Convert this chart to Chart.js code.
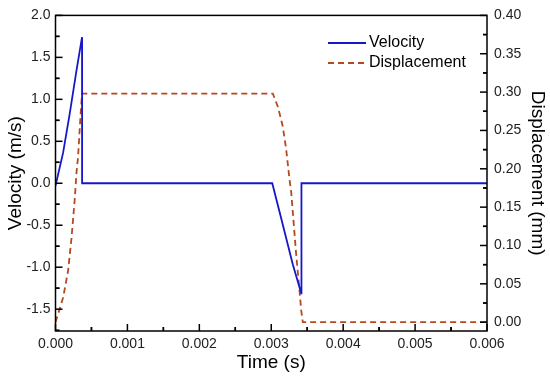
<!DOCTYPE html>
<html>
<head>
<meta charset="utf-8">
<script src="https://cdn.jsdelivr.net/npm/chart.js@4/dist/chart.umd.min.js"></script>
<style>
  html, body { margin: 0; padding: 0; background: #fff; }
  #wrap { width: 550px; height: 377px; }
</style>
</head>
<body>
<div id="wrap"><canvas id="chart"></canvas></div>
<script>
// Velocity (m/s) vs time (s)
const velTime = [0, 0.000106, 0.000199, 0.000292, 0.000369, 0.00037, 0.003014, 0.003115, 0.003208, 0.0033, 0.003417, 0.00342, 0.006];
const velocity = [-0.03, 0.365, 0.835, 1.345, 1.74, 0, 0, -0.34, -0.655, -0.968, -1.31, 0, 0];

// Displacement (mm) vs time (s)
const dispTime = [0, 0.000106, 0.000175, 0.000222, 0.000268, 0.000292, 0.000314, 0.000347, 0.000369, 0.003022, 0.003092, 0.003161, 0.003208, 0.003254, 0.003278, 0.003347, 0.003393, 0.003417, 0.003439, 0.006];
const displacement = [0, 0.032, 0.067, 0.109, 0.161, 0.195, 0.216, 0.268, 0.298, 0.298, 0.281, 0.255, 0.225, 0.186, 0.169, 0.088, 0.041, 0.015, 0, 0];

// tick labels
const timeTicks = [0, 0.001, 0.002, 0.003, 0.004, 0.005, 0.006];
const velTicks = [-1.5, -1.0, -0.5, 0.0, 0.5, 1.0, 1.5, 2.0];
const dispTicks = [0, 0.05, 0.10, 0.15, 0.20, 0.25, 0.30, 0.35, 0.40];

const FONT = "'Liberation Sans', Arial, sans-serif";
const INK = '#222';

function pairs(xs, ys) {
    return xs.map((x, i) => ({ x: x, y: ys[i] }));
}

// frame, inward ticks (major + minor) and legend inside the plot
const framePlugin = {
    id: 'frame',
    afterDraw(chart) {
        const ctx = chart.ctx;
        const a = chart.chartArea;
        ctx.save();
        ctx.strokeStyle = '#000';
        ctx.lineWidth = 1.5;

        const marks = (scale, vertical, sideLeft) => {
            const vals = scale.ticks.map(t => t.value);
            const step = vals[1] - vals[0];
            const all = [];
            vals.forEach(v => { all.push([v, 7]); all.push([v + step / 2, 4]); all.push([v - step / 2, 4]); });
            all.forEach(([v, len]) => {
                if (v < scale.min - 1e-12 || v > scale.max + 1e-12) return;
                const p = scale.getPixelForValue(v);
                ctx.beginPath();
                if (vertical) {
                    const x0 = sideLeft ? a.left : a.right;
                    ctx.moveTo(x0, p);
                    ctx.lineTo(sideLeft ? x0 + len : x0 - len, p);
                } else {
                    ctx.moveTo(p, a.bottom);
                    ctx.lineTo(p, a.bottom - len);
                }
                ctx.stroke();
            });
        };
        marks(chart.scales.x, false);
        marks(chart.scales.y, true, true);
        marks(chart.scales.y1, true, false);

        ctx.strokeRect(a.left, a.top, a.right - a.left, a.bottom - a.top);

        // legend
        ctx.font = '16px ' + FONT;
        ctx.textBaseline = 'middle';
        ctx.fillStyle = '#000';
        chart.data.datasets.forEach((ds, i) => {
            const y = 43 + i * 20;
            ctx.beginPath();
            ctx.strokeStyle = ds.borderColor;
            ctx.lineWidth = ds.borderWidth;
            ctx.setLineDash(ds.borderDash || []);
            ctx.moveTo(328, y);
            ctx.lineTo(366, y);
            ctx.stroke();
            ctx.setLineDash([]);
            ctx.fillText(ds.label, 369, y);
        });
        ctx.restore();
    }
};

const ctx = document.getElementById('chart').getContext('2d');
new Chart(ctx, {
    type: 'line',
    data: {
        datasets: [
            {
                label: 'Velocity',
                data: pairs(velTime, velocity),
                yAxisID: 'y',
                borderColor: '#1717c9',
                borderWidth: 1.8,
                pointRadius: 0,
                tension: 0
            },
            {
                label: 'Displacement',
                data: pairs(dispTime, displacement),
                yAxisID: 'y1',
                borderColor: '#b4481f',
                borderWidth: 1.8,
                borderDash: [6, 4],
                pointRadius: 0,
                tension: 0
            }
        ]
    },
    options: {
        responsive: true,
        maintainAspectRatio: false,
        animation: false,
        layout: { padding: { top: 11, right: 0, left: 0, bottom: 0 } },
        plugins: { legend: { display: false }, tooltip: { enabled: false } },
        scales: {
            x: {
                type: 'linear',
                min: 0,
                max: 0.006,
                afterBuildTicks: s => { s.ticks = timeTicks.map(v => ({ value: v })); },
                afterFit: s => { s.height = 46; },
                grid: { display: false, drawTicks: false },
                border: { display: false },
                ticks: {
                    padding: 5,
                    color: INK,
                    font: { family: FONT, size: 14 },
                    callback: v => v.toFixed(3),
                    maxRotation: 0
                },
                title: {
                    display: true,
                    text: 'Time (s)',
                    color: '#000',
                    font: { family: FONT, size: 19 },
                    padding: { top: 0, bottom: 3 }
                }
            },
            y: {
                position: 'left',
                min: -1.76,
                max: 2.0,
                afterBuildTicks: s => { s.ticks = velTicks.map(v => ({ value: v })); },
                afterFit: s => { s.width = 55.5; },
                grid: { display: false, drawTicks: false },
                border: { display: false },
                ticks: {
                    padding: 5,
                    color: INK,
                    font: { family: FONT, size: 14 },
                    callback: v => v.toFixed(1)
                },
                title: {
                    display: true,
                    text: 'Velocity (m/s)',
                    color: '#000',
                    font: { family: FONT, size: 19 },
                    padding: { top: 4, bottom: 0 }
                }
            },
            y1: {
                position: 'right',
                min: -0.0115,
                max: 0.40,
                afterBuildTicks: s => { s.ticks = dispTicks.map(v => ({ value: v })); },
                afterFit: s => { s.width = 63; },
                grid: { display: false, drawTicks: false },
                border: { display: false },
                ticks: {
                    padding: 7,
                    color: INK,
                    font: { family: FONT, size: 14 },
                    callback: v => v.toFixed(2)
                },
                title: {
                    display: true,
                    text: 'Displacement (mm)',
                    color: '#000',
                    font: { family: FONT, size: 19 },
                    padding: { top: 1, bottom: 0 }
                }
            }
        }
    },
    plugins: [framePlugin]
});
</script>
</body>
</html>
